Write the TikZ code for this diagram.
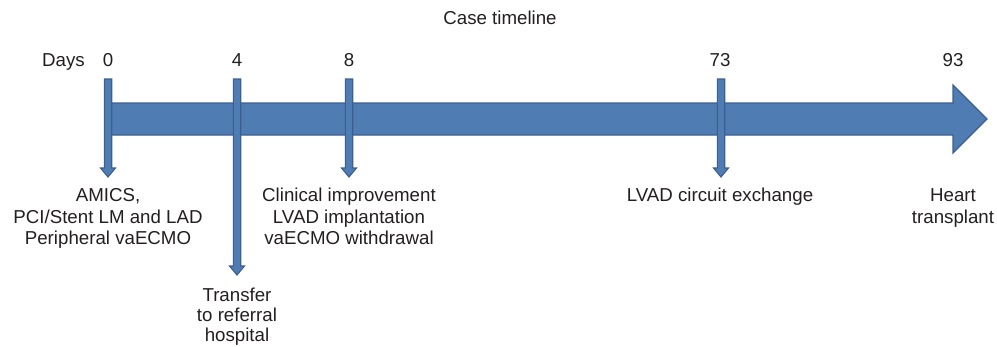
\documentclass[tikz,border=0pt]{standalone}
\usepackage{fontspec}
\setmainfont{Liberation Sans}
\definecolor{arrfill}{HTML}{4F7CB2}
\definecolor{arrline}{HTML}{3C5F8E}
\definecolor{txt}{HTML}{231F20}
\newcommand\tldownarrow[2]{%
  \draw[arrshape] (#1-3.7,79) -- (#1+3.7,79) -- (#1+3.7,#2-9) -- (#1+7.5,#2-9) -- (#1,#2)
    -- (#1-7.5,#2-9) -- (#1-3.7,#2-9) -- cycle;}
\begin{document}
\begin{tikzpicture}[x=1pt,y=-1pt,
  lbl/.style={font=\fontsize{18.7}{21.5}\selectfont, text=txt, align=center, inner sep=0pt, anchor=base},
  arrshape/.style={fill=arrfill, draw=arrline, line width=1.1pt, line join=miter}]
\useasboundingbox (0,0) rectangle (997,346);
% main timeline arrow
\draw[arrshape] (111,103) -- (953,103) -- (953,85) -- (987,119) -- (953,153) -- (953,135) -- (111,135) -- cycle;
% event arrows
\tldownarrow{108}{177}
\tldownarrow{237}{275}
\tldownarrow{349}{177}
\tldownarrow{721}{177}
% texts (base anchor = baseline of the last line)
\node[lbl] (title) at (500,24.7) {Case timeline};
\node[lbl, anchor=base east] (days) at (85,66.7) {Days};
\node[lbl] (d0) at (108,66.7) {0};
\node[lbl] (d4) at (237,66.7) {4};
\node[lbl] (d8) at (349,66.7) {8};
\node[lbl] (d73) at (720,66.7) {73};
\node[lbl] (d93) at (953,66.7) {93};
\node[lbl] (e0) at (108,244.7) {AMICS,\\PCI/Stent LM and LAD\\Peripheral vaECMO};
\node[lbl] (e8) at (349,244.7) {Clinical improvement\\LVAD implantation\\vaECMO withdrawal};
\node[lbl] (e73) at (720,201.7) {LVAD circuit exchange};
\node[lbl] (e93) at (953,223.2) {Heart\\transplant};
\node[lbl, font=\fontsize{18.7}{20}\selectfont] (e4) at (237,341.5) {Transfer\\to referral\\hospital};
\end{tikzpicture}
\end{document}
